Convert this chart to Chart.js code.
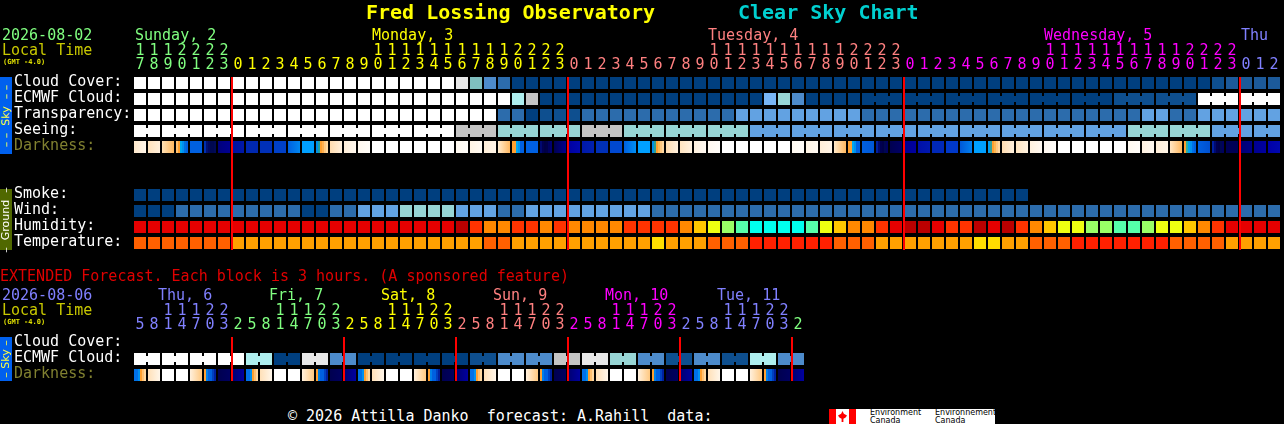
<!DOCTYPE html>
<html><head><meta charset="utf-8">
<script src="https://cdn.jsdelivr.net/npm/chart.js@4"></script>
<style>
html,body{margin:0;padding:0;background:#000;width:1284px;height:424px;overflow:hidden}
canvas{position:absolute;left:0}
.t{position:absolute;white-space:pre;font:15px/16px "DejaVu Sans Mono",monospace}
.side{position:absolute;left:0;width:12px}
.side span{position:absolute;left:50%;top:50%;transform:translate(-50%,-50%) rotate(-90deg);white-space:pre;font:11px/12px "DejaVu Sans",sans-serif}
</style></head><body>
<canvas id="main" style="top:0" width="1284" height="251"></canvas>
<canvas id="ext" style="top:260px" width="808" height="123"></canvas>
<div id="texts"></div>
<script>
/* ---- hours along the top ---- */
const mainHours=[17,18,19,20,21,22,23,0,1,2,3,4,5,6,7,8,9,10,11,12,13,14,15,16,17,18,19,20,21,22,23,0,1,2,3,4,5,6,7,8,9,10,11,12,13,14,15,16,17,18,19,20,21,22,23,0,1,2,3,4,5,6,7,8,9,10,11,12,13,14,15,16,17,18,19,20,21,22,23,0,1,2];
const mainHourDay=[0,0,0,0,0,0,0,1,1,1,1,1,1,1,1,1,1,1,1,1,1,1,1,1,1,1,1,1,1,1,1,2,2,2,2,2,2,2,2,2,2,2,2,2,2,2,2,2,2,2,2,2,2,2,2,3,3,3,3,3,3,3,3,3,3,3,3,3,3,3,3,3,3,3,3,3,3,3,3,4,4,4];
const extHours=[5,8,11,14,17,20,23,2,5,8,11,14,17,20,23,2,5,8,11,14,17,20,23,2,5,8,11,14,17,20,23,2,5,8,11,14,17,20,23,2,5,8,11,14,17,20,23,2];
const extHourDay=[4,4,4,4,4,4,4,0,0,0,0,0,0,0,0,1,1,1,1,1,1,1,1,2,2,2,2,2,2,2,2,3,3,3,3,3,3,3,3,4,4,4,4,4,4,4,4,0];
const dayColours=['#80ff80','#ffff00','#ff8080','#ff00ff','#8080ff'];

/* ---- row names ---- */
const mainRows=['Cloud Cover:','ECMWF Cloud:','Transparency:','Seeing:','Darkness:','','','Smoke:','Wind:','Humidity:','Temperature:'];
const extRows=['Cloud Cover:','ECMWF Cloud:','Darkness:'];

/* ---- category levels: index into skyColours ---- */
const skyColours=['#003f7f','#0e4f8f','#2c6cac','#4d8bcb','#62a2e2','#78b6f6','#97d5d5','#aeeeee','#c4c4c4','#e8e8e8','#ffffff','#7fbfbf','#1c5a9a'];
const cloudCover=[10,10,10,10,10,10,10,10,10,10,10,10,10,10,10,10,10,10,10,10,10,10,10,9,11,3,2,0,0,0,0,0,0,0,0,0,0,0,0,0,0,0,0,0,0,0,0,0,0,0,0,0,0,0,0,0,0,0,0,0,0,0,0,0,0,0,0,0,0,0,0,0,0,0,0,0,0,1,12,12,12,12];
const ecmwfCloud=[10,10,10,10,10,10,10,10,10,10,10,10,10,10,10,10,10,10,10,10,10,10,10,10,10,10,10,7,8,0,0,0,0,0,0,0,0,0,0,0,0,0,0,0,0,5,6,3,0,0,0,0,0,0,0,0,0,0,0,0,0,0,0,0,0,0,0,0,0,0,1,1,1,1,1,1,10,10,10,10,10,10];
const transparency=[10,10,10,10,10,10,10,10,10,10,10,10,10,10,10,10,10,10,10,10,10,10,10,10,10,10,2,2,0,1,1,1,2,2,2,2,2,2,2,2,2,2,2,4,4,4,4,4,4,4,4,4,2,2,2,2,2,2,2,2,2,2,2,2,2,2,2,2,2,2,2,2,4,4,2,2,4,4,4,4,4,4];
const seeing=[10,10,10,10,10,10,10,10,10,10,10,10,10,10,10,10,10,10,10,10,10,10,10,8,8,8,6,6,6,6,6,6,8,8,8,6,6,6,6,6,6,6,6,6,4,4,4,4,4,4,4,4,4,4,4,4,4,4,4,4,4,4,4,4,4,4,4,4,4,4,4,6,6,6,6,6,6,4,4,4,4,4];
const smoke=[0,0,0,0,0,0,0,0,0,0,0,0,0,0,0,0,0,0,0,0,0,0,0,0,0,0,0,0,0,0,0,0,0,0,0,0,0,0,0,0,0,0,0,0,0,0,0,0,0,0,0,0,0,0,0,0,0,0,0,0,0,0,0,0,null,null,null,null,null,null,null,null,null,null,null,null,null,null,null,null,null,null];
const wind=[0,0,0,2,2,2,2,2,2,2,2,2,0,0,2,2,4,4,4,6,6,6,6,4,4,4,2,2,4,4,4,4,4,4,4,4,4,2,2,2,2,2,2,2,2,2,2,2,2,2,2,2,2,2,2,2,2,2,2,2,2,2,2,2,2,2,2,2,2,2,2,2,2,2,2,2,2,2,2,2,2,2];
const humidColours=['#bb0000','#e60000','#ff3300','#ff8800','#ffc800','#eeff11','#99ff66','#55ffaa','#00ffee'];
const humidity=[1,1,1,1,1,1,1,1,1,1,1,1,1,1,1,1,1,1,1,1,1,1,1,0,2,3,3,2,2,3,2,3,3,3,3,2,2,2,2,3,4,5,6,7,8,8,8,8,7,5,4,3,3,2,1,0,0,1,2,2,0,1,0,2,3,4,5,5,6,6,7,7,6,5,5,4,3,2,1,1,1,1];
const tempColours=['#ff2000','#ff6000','#ffa000','#ffdd00'];
const temperature=[1,1,1,1,1,1,1,2,2,2,2,2,2,2,2,2,2,2,2,2,2,2,2,2,2,1,1,2,2,2,2,2,2,2,2,2,2,3,2,2,2,1,1,1,0,0,0,0,0,0,1,1,1,2,2,2,2,2,2,2,3,3,2,2,1,1,1,0,0,0,0,0,0,0,1,1,1,1,2,2,2,2];
const extEcmwf=[10,10,10,10,10,10,10,10,7,7,0,0,9,9,3,3,0,0,0,0,0,0,0,0,1,1,3,3,3,3,8,8,9,9,6,6,3,3,1,1,3,3,1,1,7,7,3,3];

/* ---- which columns start a joined block ---- */
const seeingBlocks=[0,2,5,8,11,14,17,20,23,26,29,32,35,38,41,44,47,50,53,56,59,62,65,68,71,74,77,80];
const ecmwfBlocks=[52,55,58,61,64,67,70,73,76,79];
const extBlocks=[0,2,4,6,8,10,12,14,16,18,20,22,24,26,28,30,32,34,36,38,40,42,44,46];

/* ---- darkness: colours read across each cell (2 = smooth, 6 = pixel bands) ---- */
const W=['#ffffff','#ffffff'];
const darkness=[
['#ffe9cc','#fff6ea'],['#ffe2bc','#fff0dc'],['#ffe0b5','#ffb860'],['#ffc070','#ffa030','#00a8f0','#0090f0','#0070e0','#0060e0'],['#0060e0','#0060e0'],['#0030b0','#001070','#000860','#000850','#000850','#000a58'],['#00007c','#000090'],['#0010a0','#0018a8'],['#0028b0','#0028b0'],['#0030b8','#0030b8'],['#0040c8','#0040c8'],['#0060e0','#0088f0'],['#00a0ff','#00a0ff'],['#0090e8','#20a0a0','#ffa030','#ffb050','#ffc880','#ffd8a0'],['#ffdcb0','#fff0dd'],['#ffeed8','#fff8ef'],['#fff8ef','#fffdf9'],
W,W,W,W,W,W,
['#fff9f0','#fffdfa'],['#fff4e4','#fffaf3'],['#ffeed8','#fff5e8'],['#ffeccf','#ffb860'],['#ffa030','#ffa030','#00a8f0','#0090f0','#0060e0','#0060e0'],['#0060e0','#0060e0'],['#000870','#000050','#000044','#000048','#000060','#000070'],['#000050','#000090'],['#0000a0','#0008b0'],['#0018a8','#0020b0'],['#0030b8','#0030b8'],['#0048d0','#0048d0'],['#0060e0','#0090f4'],['#00a0ff','#00a0ff'],['#0090e8','#30a090','#ffa030','#ffb850','#ffc880','#ffd8a0'],['#ffdcb0','#fff0dd'],['#ffe4c0','#fff2e0'],['#fff1de','#fff9f2'],['#fff8f0','#fffdfa'],
W,W,W,W,W,
['#fff9f0','#fffdfa'],['#fff4e4','#fffaf3'],['#ffeed8','#fff5e8'],['#ffe8c8','#ffb860'],['#ffa030','#ffa030','#00a8f0','#0090f0','#0060e0','#0060e0'],['#0060e0','#0058d8'],['#0020a0','#000a70','#000050','#000048','#000850','#000060'],['#000050','#000064'],['#000090','#0000a0'],['#0010a8','#0018b0'],['#0028b8','#0028b8'],['#0038c8','#0038c8'],['#0058d8','#0080ee'],['#00a0ff','#00a0ff'],['#00a0f0','#30a0a0','#ffa030','#ffb850','#ffc880','#ffd8a0'],['#ffdcb0','#fff0dd'],['#ffe4c0','#fff2e0'],['#fff1de','#fff9f2'],['#fff8f0','#fffdfa'],
W,W,W,W,W,
['#fff9f0','#fffdfa'],['#fff1e0','#fff9f2'],['#ffeed8','#fff5e8'],['#ffe6c4','#ffb860'],['#ffa030','#30b0a0','#00a0f0','#0090f0','#0070e8','#0060e0'],['#0060e0','#0050d0'],['#0020a0','#000a70','#000050','#000048','#000850','#000060'],['#000055','#000055'],['#000070','#000088'],['#000090','#0000a0'],['#0000a8','#0008b0']];
const dawn=['#0070e8','#0070e8','#0090f0','#ffa030','#ffc070','#ffd8a0'], morn=['#ffe0b8','#fff6ea'], eve=['#fff0dd','#ffc880'], dusk=['#ffa030','#0080e8','#0060e0','#0060e0','#0040c0','#0020a0'], night1=['#000050','#000060'], night2=['#000070','#0000a0'];
const extDarkness=[dawn,morn,W,W,eve,dusk,night1,night2, dawn,morn,W,W,eve,dusk,night1,night2, dawn,morn,W,W,eve,dusk,night1,night2, dawn,morn,W,W,eve,dusk,night1,night2, dawn,morn,W,W,eve,dusk,night1,night2, dawn,morn,W,W,eve,dusk,night1,night2];

/* ---- columns where a new day starts ---- */
const mainMidnights=[7,31,55,79];
const extMidnights=[7,15,23,31,39,47];

/* ---- text ---- */
const title=[['Fred Lossing Observatory',366,'#ffff00'],['Clear Sky Chart',738,'#00d0d0']];
const mainDays=[['Sunday, 2',135,0],['Monday, 3',372,1],['Tuesday, 4',708,2],['Wednesday, 5',1044,3],['Thu',1241,4]];
const extDays=[['Thu, 6',158,4],['Fri, 7',269,0],['Sat, 8',381,1],['Sun, 9',493,2],['Mon, 10',605,3],['Tue, 11',717,4]];

function bandFill(c,stops,idx){
  const ctx=c.chart.ctx, cx=c.chart.scales.x.getPixelForValue(idx), L=cx-6;
  if(!Number.isFinite(L)) return '#000';
  const g=ctx.createLinearGradient(L,0,L+12,0);
  if(stops.length<3){g.addColorStop(0,stops[0]);g.addColorStop(1,stops[1]);}
  else{const n=stops.length;stops.forEach((s,i)=>{g.addColorStop(i/n,s);g.addColorStop((i+1)/n,s);});}
  return g;
}
function levelRow(row,values,palette,blocks){
  return {data:values.map(v=>v===null?null:[row-.375,row+.375]),
          backgroundColor:values.map(v=>v===null?'rgba(0,0,0,0)':palette[v]),
          values,palette,blocks:blocks||null};
}
function stopsRow(row,stops){
  return {data:stops.map(()=>[row-.375,row+.375]),backgroundColor:c=>(c.dataIndex==null||!stops[c.dataIndex])?'#000':bandFill(c,stops[c.dataIndex],c.dataIndex)};
}
const overlay=(midnights,y0,y1)=>({id:'overlay',afterDatasetsDraw(chart){
  const {ctx,scales:{x,y}}=chart;
  chart.data.datasets.forEach(d=>{
    if(!d.blocks) return;
    const first=d.blocks[0], starts=new Set(d.blocks);
    const pair=d.data.find(v=>v), yc=y.getPixelForValue((pair[0]+pair[1])/2);
    for(let i=first;i<d.values.length-1;i++){
      if(starts.has(i+1)) continue;
      ctx.fillStyle=d.palette[d.values[i]];
      ctx.fillRect(x.getPixelForValue(i)+5,yc-3,4,6);
    }
  });
  ctx.fillStyle='#ff0000';
  midnights.forEach(m=>ctx.fillRect(x.getPixelForValue(m)-7,y0,2,y1-y0));
}});
function makeChart(id,hours,hourDay,rows,datasets,midnights,y0,y1){
  return new Chart(document.getElementById(id),{
    type:'bar',
    data:{labels:hours.map(String),datasets},
    plugins:[overlay(midnights,y0,y1)],
    options:{
      responsive:false,animation:false,devicePixelRatio:1,
      layout:{autoPadding:false,padding:{left:14,right:3,top:0,bottom:0}},
      plugins:{legend:{display:false},tooltip:{enabled:false},title:{display:false}},
      datasets:{bar:{barThickness:12,grouped:false,borderWidth:0,inflateAmount:0,borderSkipped:false}},
      scales:{
        x:{position:'top',offset:true,grid:{display:false,drawTicks:false},border:{display:false},
           afterFit:s=>{s.height=75;s.paddingLeft=0;s.paddingRight=0;},
           ticks:{autoSkip:false,maxRotation:0,minRotation:0,padding:3,
             font:{family:'"DejaVu Sans Mono"',size:15,lineHeight:14/15},
             color:c=>dayColours[hourDay[c.index]],
             callback:(v,i)=>{const h=String(hours[i]);return [h.length>1?h[0]:' ',h[h.length-1]];}}},
        y:{type:'linear',bounds:'data',reverse:true,min:-.5,max:rows.length-.5,grid:{display:false,drawTicks:false},border:{display:false},
           afterBuildTicks:s=>{s.ticks=rows.map((_,i)=>({value:i}));},
           afterFit:s=>{s.width=119;s.paddingTop=0;s.paddingBottom=0;},
           ticks:{autoSkip:false,crossAlign:'far',labelOffset:-1,
             font:{family:'"DejaVu Sans Mono"',size:15},
             color:c=>rows[c.tick.value]==='Darkness:'?'#808030':'#ffffff',
             callback:v=>rows[v]}}
      }
    }
  });
}
makeChart('main',mainHours,mainHourDay,mainRows,[
  levelRow(0,cloudCover,skyColours),
  levelRow(1,ecmwfCloud,skyColours,ecmwfBlocks),
  levelRow(2,transparency,skyColours),
  levelRow(3,seeing,skyColours,seeingBlocks),
  stopsRow(4,darkness),
  levelRow(7,smoke,skyColours),
  levelRow(8,wind,skyColours),
  levelRow(9,humidity,humidColours),
  levelRow(10,temperature,tempColours)
],mainMidnights,77,250);
makeChart('ext',extHours,extHourDay,extRows,[
  levelRow(1,extEcmwf,skyColours,extBlocks),
  stopsRow(2,extDarkness)
],extMidnights,77,121);

/* ---- page text ---- */
const box=document.getElementById('texts');
function put(str,x,cy,colour,extra){
  const s=document.createElement('div');s.className='t';s.textContent=str;
  s.style.left=x+'px';s.style.top=(cy-8)+'px';s.style.color=colour;
  if(extra)Object.assign(s.style,extra);box.appendChild(s);
}
title.forEach(([t,x,c])=>put(t,x,12,c,{font:'bold 20px/24px "DejaVu Sans Mono"',top:'0px'}));
put('2026-08-02',2,35,'#80ff80');
put('Local Time',2,50,'#c8c800');
put('(GMT -4.0)',3,62,'#e0e000',{font:'bold 7px/8px "DejaVu Sans Mono"',top:'58px'});
mainDays.forEach(([t,x,d])=>put(t,x,35,dayColours[d]));
put('EXTENDED Forecast. Each block is 3 hours. (A sponsored feature)',0,276,'#e00000');
put('2026-08-06',2,295,'#8080ff');
put('Local Time',2,310,'#c8c800');
put('(GMT -4.0)',3,322,'#e0e000',{font:'bold 7px/8px "DejaVu Sans Mono"',top:'318px'});
extDays.forEach(([t,x,d])=>put(t,x,295,dayColours[d]));
put('\u00a9 2026 Attilla Danko  forecast: A.Rahill  data:',288,416,'#ffffff');
function side(top,h,bg,fg,str){
  const d=document.createElement('div');d.className='side';
  d.style.cssText+=`top:${top}px;height:${h}px;background:${bg};color:${fg}`;
  const s=document.createElement('span');s.textContent=str;d.appendChild(s);box.appendChild(d);
}
side(77,77,'#0060ee','#ffff40','– –  Sky  – –');
side(189,61,'#506800','#ffffff','–  Ground  –');
side(337,44,'#0060ee','#ffff40','– Sky –');
</script>
<div style="position:absolute;left:829px;top:409px;width:166px;height:15px;background:#fff;overflow:hidden;color:#000;font:8px/7.5px 'DejaVu Sans',sans-serif">
  <div style="position:absolute;left:0;top:0;width:7px;height:15px;background:#f00"></div>
  <div style="position:absolute;left:20px;top:0;width:7px;height:15px;background:#f00"></div>
  <div style="position:absolute;left:9px;top:2px;width:9px;height:11px;background:#f00;clip-path:polygon(50% 0,65% 25%,100% 40%,85% 60%,60% 70%,60% 100%,40% 100%,40% 70%,15% 60%,0 40%,35% 25%)"></div>
  <div style="position:absolute;left:41px;top:0;white-space:pre">Environment
Canada</div>
  <div style="position:absolute;left:106px;top:0;white-space:pre">Environnement
Canada</div>
</div>
</body></html>
